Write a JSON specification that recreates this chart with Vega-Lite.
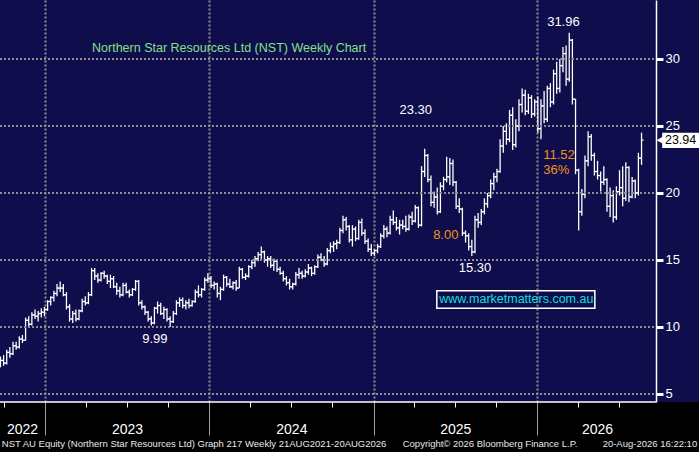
{
  "$schema": "https://vega.github.io/schema/vega-lite/v6.json",
  "width": 699,
  "height": 402,
  "autosize": "none",
  "padding": {"left": 0, "top": 0, "right": 0, "bottom": 50},
  "background": "#000000",
  "config": {
    "view": {"fill": "#0f0d4b", "stroke": null},
    "font": "Liberation Sans",
    "text": {"font": "Liberation Sans"}
  },
  "datasets": {
    "nst": [
      {"d":"2022-09-23","o":7.4,"h":7.8,"l":7.0,"c":7.5},
      {"d":"2022-09-30","o":7.5,"h":7.9,"l":7.1,"c":7.3},
      {"d":"2022-10-07","o":7.3,"h":8.3,"l":7.2,"c":8.1},
      {"d":"2022-10-14","o":8.1,"h":8.5,"l":7.7,"c":8.0},
      {"d":"2022-10-21","o":8.0,"h":8.9,"l":7.9,"c":8.6},
      {"d":"2022-10-28","o":8.6,"h":8.9,"l":8.3,"c":8.5},
      {"d":"2022-11-04","o":8.5,"h":9.3,"l":8.4,"c":9.1},
      {"d":"2022-11-11","o":9.1,"h":9.4,"l":8.8,"c":9.0},
      {"d":"2022-11-18","o":9.0,"h":10.7,"l":9.0,"c":10.5},
      {"d":"2022-11-25","o":10.5,"h":10.8,"l":10.0,"c":10.2},
      {"d":"2022-12-02","o":10.2,"h":11.1,"l":10.1,"c":10.9},
      {"d":"2022-12-09","o":10.9,"h":11.3,"l":10.6,"c":10.8},
      {"d":"2022-12-16","o":10.8,"h":11.2,"l":10.4,"c":11.0},
      {"d":"2022-12-23","o":11.0,"h":11.4,"l":10.7,"c":11.1},
      {"d":"2022-12-30","o":11.1,"h":11.5,"l":10.8,"c":11.3},
      {"d":"2023-01-06","o":11.3,"h":12.0,"l":11.2,"c":11.9},
      {"d":"2023-01-13","o":11.9,"h":12.3,"l":11.6,"c":12.2},
      {"d":"2023-01-20","o":12.2,"h":12.7,"l":11.9,"c":12.5},
      {"d":"2023-01-27","o":12.5,"h":13.2,"l":12.3,"c":12.9},
      {"d":"2023-02-03","o":12.9,"h":13.4,"l":12.6,"c":12.9},
      {"d":"2023-02-10","o":12.9,"h":13.2,"l":12.3,"c":12.4},
      {"d":"2023-02-17","o":12.4,"h":12.6,"l":11.3,"c":11.5},
      {"d":"2023-02-24","o":11.5,"h":11.7,"l":10.4,"c":10.6},
      {"d":"2023-03-03","o":10.6,"h":11.2,"l":10.3,"c":11.0},
      {"d":"2023-03-10","o":11.0,"h":11.3,"l":10.4,"c":10.6},
      {"d":"2023-03-17","o":10.6,"h":11.3,"l":10.5,"c":11.2},
      {"d":"2023-03-24","o":11.2,"h":12.1,"l":11.1,"c":11.9},
      {"d":"2023-03-31","o":11.9,"h":12.3,"l":11.6,"c":11.8},
      {"d":"2023-04-07","o":11.8,"h":12.6,"l":11.7,"c":12.4},
      {"d":"2023-04-14","o":12.4,"h":14.4,"l":12.3,"c":14.2},
      {"d":"2023-04-21","o":14.2,"h":14.4,"l":13.5,"c":13.8},
      {"d":"2023-04-28","o":13.8,"h":14.0,"l":13.3,"c":13.5},
      {"d":"2023-05-05","o":13.5,"h":14.1,"l":13.4,"c":14.0},
      {"d":"2023-05-12","o":14.0,"h":14.2,"l":13.6,"c":13.8},
      {"d":"2023-05-19","o":13.8,"h":13.9,"l":13.2,"c":13.4},
      {"d":"2023-05-26","o":13.4,"h":13.9,"l":12.9,"c":13.6},
      {"d":"2023-06-02","o":13.6,"h":13.8,"l":12.9,"c":13.0},
      {"d":"2023-06-09","o":13.0,"h":13.3,"l":12.4,"c":12.7},
      {"d":"2023-06-16","o":12.7,"h":13.0,"l":12.2,"c":12.4},
      {"d":"2023-06-23","o":12.4,"h":13.3,"l":12.3,"c":13.1},
      {"d":"2023-06-30","o":13.1,"h":13.3,"l":12.5,"c":12.6},
      {"d":"2023-07-07","o":12.6,"h":12.8,"l":12.2,"c":12.4},
      {"d":"2023-07-14","o":12.4,"h":12.9,"l":12.3,"c":12.8},
      {"d":"2023-07-21","o":12.8,"h":13.5,"l":12.7,"c":13.4},
      {"d":"2023-07-28","o":13.4,"h":13.5,"l":11.6,"c":11.8},
      {"d":"2023-08-04","o":11.8,"h":12.0,"l":11.3,"c":11.5},
      {"d":"2023-08-11","o":11.5,"h":11.6,"l":10.9,"c":11.1},
      {"d":"2023-08-18","o":11.1,"h":11.2,"l":10.4,"c":10.6},
      {"d":"2023-08-25","o":10.6,"h":10.8,"l":10.1,"c":10.3},
      {"d":"2023-09-01","o":10.3,"h":11.5,"l":10.2,"c":11.4},
      {"d":"2023-09-08","o":11.4,"h":11.9,"l":11.0,"c":11.6},
      {"d":"2023-09-15","o":11.6,"h":11.8,"l":10.9,"c":11.0},
      {"d":"2023-09-22","o":11.0,"h":11.5,"l":10.6,"c":11.3},
      {"d":"2023-09-29","o":11.3,"h":11.4,"l":10.4,"c":10.6},
      {"d":"2023-10-06","o":10.6,"h":10.8,"l":9.99,"c":10.4},
      {"d":"2023-10-13","o":10.4,"h":11.2,"l":10.3,"c":11.0},
      {"d":"2023-10-20","o":11.0,"h":12.0,"l":10.9,"c":11.8},
      {"d":"2023-10-27","o":11.8,"h":12.2,"l":11.5,"c":12.0},
      {"d":"2023-11-03","o":12.0,"h":12.2,"l":11.4,"c":11.6},
      {"d":"2023-11-10","o":11.6,"h":12.0,"l":11.3,"c":11.8},
      {"d":"2023-11-17","o":11.8,"h":12.1,"l":11.4,"c":11.6},
      {"d":"2023-11-24","o":11.6,"h":12.0,"l":11.5,"c":11.9},
      {"d":"2023-12-01","o":11.9,"h":12.8,"l":11.8,"c":12.6},
      {"d":"2023-12-08","o":12.6,"h":13.1,"l":12.2,"c":12.4},
      {"d":"2023-12-15","o":12.4,"h":12.9,"l":12.2,"c":12.8},
      {"d":"2023-12-22","o":12.8,"h":13.7,"l":12.7,"c":13.5},
      {"d":"2023-12-29","o":13.5,"h":14.0,"l":13.3,"c":13.6},
      {"d":"2024-01-05","o":13.6,"h":13.8,"l":12.9,"c":13.1},
      {"d":"2024-01-12","o":13.1,"h":13.4,"l":12.8,"c":13.2},
      {"d":"2024-01-19","o":13.2,"h":13.3,"l":12.2,"c":12.5},
      {"d":"2024-01-26","o":12.5,"h":13.0,"l":12.0,"c":12.8},
      {"d":"2024-02-02","o":12.8,"h":13.9,"l":12.7,"c":13.7},
      {"d":"2024-02-09","o":13.7,"h":13.8,"l":13.0,"c":13.2},
      {"d":"2024-02-16","o":13.2,"h":13.6,"l":12.9,"c":13.0},
      {"d":"2024-02-23","o":13.0,"h":13.4,"l":12.8,"c":13.3},
      {"d":"2024-03-01","o":13.3,"h":13.5,"l":12.7,"c":12.9},
      {"d":"2024-03-08","o":12.9,"h":14.5,"l":12.9,"c":14.3},
      {"d":"2024-03-15","o":14.3,"h":14.4,"l":13.6,"c":13.7},
      {"d":"2024-03-22","o":13.7,"h":14.0,"l":13.5,"c":13.8},
      {"d":"2024-03-29","o":13.8,"h":14.6,"l":13.7,"c":14.5},
      {"d":"2024-04-05","o":14.5,"h":15.0,"l":14.3,"c":14.8},
      {"d":"2024-04-12","o":14.8,"h":15.3,"l":14.5,"c":15.1},
      {"d":"2024-04-19","o":15.1,"h":15.6,"l":14.9,"c":15.4},
      {"d":"2024-04-26","o":15.4,"h":16.0,"l":15.0,"c":15.6},
      {"d":"2024-05-03","o":15.6,"h":15.7,"l":14.8,"c":15.0},
      {"d":"2024-05-10","o":15.0,"h":15.3,"l":14.5,"c":15.1},
      {"d":"2024-05-17","o":15.1,"h":15.3,"l":14.4,"c":14.6},
      {"d":"2024-05-24","o":14.6,"h":15.1,"l":14.2,"c":14.9},
      {"d":"2024-05-31","o":14.9,"h":15.0,"l":14.1,"c":14.3},
      {"d":"2024-06-07","o":14.3,"h":14.5,"l":13.9,"c":14.0},
      {"d":"2024-06-14","o":14.0,"h":14.2,"l":13.4,"c":13.6},
      {"d":"2024-06-21","o":13.6,"h":13.8,"l":13.1,"c":13.3},
      {"d":"2024-06-28","o":13.3,"h":13.6,"l":12.8,"c":13.0},
      {"d":"2024-07-05","o":13.0,"h":13.3,"l":12.8,"c":13.2},
      {"d":"2024-07-12","o":13.2,"h":14.1,"l":13.1,"c":13.9},
      {"d":"2024-07-19","o":13.9,"h":14.4,"l":13.6,"c":14.0},
      {"d":"2024-07-26","o":14.0,"h":14.2,"l":13.6,"c":13.8},
      {"d":"2024-08-02","o":13.8,"h":14.3,"l":13.7,"c":14.1},
      {"d":"2024-08-09","o":14.1,"h":14.7,"l":13.9,"c":14.4},
      {"d":"2024-08-16","o":14.4,"h":14.5,"l":13.8,"c":14.0},
      {"d":"2024-08-23","o":14.0,"h":14.6,"l":13.9,"c":14.5},
      {"d":"2024-08-30","o":14.5,"h":15.4,"l":14.4,"c":15.2},
      {"d":"2024-09-06","o":15.2,"h":15.5,"l":14.9,"c":15.0},
      {"d":"2024-09-13","o":15.0,"h":15.3,"l":14.5,"c":14.7},
      {"d":"2024-09-20","o":14.7,"h":15.9,"l":14.6,"c":15.7},
      {"d":"2024-09-27","o":15.7,"h":16.3,"l":15.5,"c":16.0},
      {"d":"2024-10-04","o":16.0,"h":16.4,"l":15.6,"c":16.2},
      {"d":"2024-10-11","o":16.2,"h":16.5,"l":15.8,"c":16.3},
      {"d":"2024-10-18","o":16.3,"h":17.4,"l":16.2,"c":17.2},
      {"d":"2024-10-25","o":17.2,"h":18.3,"l":17.0,"c":18.0},
      {"d":"2024-11-01","o":18.0,"h":18.2,"l":17.2,"c":17.5},
      {"d":"2024-11-08","o":17.5,"h":17.6,"l":16.3,"c":16.5},
      {"d":"2024-11-15","o":16.5,"h":17.6,"l":16.0,"c":17.3},
      {"d":"2024-11-22","o":17.3,"h":17.5,"l":16.4,"c":16.6},
      {"d":"2024-11-29","o":16.6,"h":18.0,"l":16.5,"c":17.8},
      {"d":"2024-12-06","o":17.8,"h":18.1,"l":16.8,"c":17.0},
      {"d":"2024-12-13","o":17.0,"h":17.3,"l":16.2,"c":16.4},
      {"d":"2024-12-20","o":16.4,"h":16.6,"l":15.6,"c":15.8},
      {"d":"2024-12-27","o":15.8,"h":16.2,"l":15.3,"c":15.5},
      {"d":"2025-01-03","o":15.5,"h":15.8,"l":15.3,"c":15.7},
      {"d":"2025-01-10","o":15.7,"h":16.2,"l":15.5,"c":16.0},
      {"d":"2025-01-17","o":16.0,"h":17.0,"l":15.9,"c":16.8},
      {"d":"2025-01-24","o":16.8,"h":17.6,"l":16.6,"c":17.3},
      {"d":"2025-01-31","o":17.3,"h":17.5,"l":16.7,"c":17.0},
      {"d":"2025-02-07","o":17.0,"h":18.3,"l":16.9,"c":18.0},
      {"d":"2025-02-14","o":18.0,"h":18.7,"l":17.6,"c":17.8},
      {"d":"2025-02-21","o":17.8,"h":18.2,"l":17.2,"c":17.4},
      {"d":"2025-02-28","o":17.4,"h":18.0,"l":16.9,"c":17.6},
      {"d":"2025-03-07","o":17.6,"h":18.0,"l":17.3,"c":17.5},
      {"d":"2025-03-14","o":17.5,"h":18.3,"l":17.1,"c":17.3},
      {"d":"2025-03-21","o":17.3,"h":18.4,"l":17.2,"c":18.2},
      {"d":"2025-03-28","o":18.2,"h":18.6,"l":17.6,"c":17.9},
      {"d":"2025-04-04","o":17.9,"h":19.1,"l":17.8,"c":18.9},
      {"d":"2025-04-11","o":18.9,"h":19.0,"l":17.4,"c":17.6},
      {"d":"2025-04-18","o":17.6,"h":22.0,"l":17.5,"c":21.6},
      {"d":"2025-04-25","o":21.6,"h":23.3,"l":21.2,"c":22.8},
      {"d":"2025-05-02","o":22.8,"h":22.9,"l":20.8,"c":21.0},
      {"d":"2025-05-09","o":21.0,"h":21.3,"l":19.0,"c":19.3},
      {"d":"2025-05-16","o":19.3,"h":20.1,"l":18.9,"c":19.7},
      {"d":"2025-05-23","o":19.7,"h":20.4,"l":18.4,"c":18.6},
      {"d":"2025-05-30","o":18.6,"h":20.8,"l":18.5,"c":20.5},
      {"d":"2025-06-06","o":20.5,"h":21.2,"l":20.2,"c":21.0},
      {"d":"2025-06-13","o":21.0,"h":22.7,"l":20.8,"c":21.2},
      {"d":"2025-06-20","o":21.2,"h":22.6,"l":20.6,"c":22.2},
      {"d":"2025-06-27","o":22.2,"h":22.5,"l":20.5,"c":20.8},
      {"d":"2025-07-04","o":20.8,"h":20.9,"l":18.8,"c":19.0},
      {"d":"2025-07-11","o":19.0,"h":19.6,"l":18.5,"c":18.8},
      {"d":"2025-07-18","o":18.8,"h":18.9,"l":16.8,"c":17.0},
      {"d":"2025-07-25","o":17.0,"h":17.2,"l":16.3,"c":16.8},
      {"d":"2025-08-01","o":16.8,"h":17.0,"l":15.7,"c":16.0},
      {"d":"2025-08-08","o":16.0,"h":16.5,"l":15.3,"c":15.6},
      {"d":"2025-08-15","o":15.6,"h":18.3,"l":15.5,"c":18.0},
      {"d":"2025-08-22","o":18.0,"h":18.5,"l":17.4,"c":17.8},
      {"d":"2025-08-29","o":17.8,"h":18.8,"l":17.6,"c":18.6},
      {"d":"2025-09-05","o":18.6,"h":19.6,"l":18.4,"c":19.2},
      {"d":"2025-09-12","o":19.2,"h":20.0,"l":18.9,"c":19.8},
      {"d":"2025-09-19","o":19.8,"h":21.0,"l":19.6,"c":20.7},
      {"d":"2025-09-26","o":20.7,"h":21.5,"l":20.2,"c":21.2},
      {"d":"2025-10-03","o":21.2,"h":21.8,"l":20.8,"c":21.6},
      {"d":"2025-10-10","o":21.6,"h":24.0,"l":21.5,"c":23.5},
      {"d":"2025-10-17","o":23.5,"h":25.0,"l":23.0,"c":24.6},
      {"d":"2025-10-24","o":24.6,"h":25.2,"l":23.6,"c":24.0},
      {"d":"2025-10-31","o":24.0,"h":26.2,"l":23.8,"c":25.8},
      {"d":"2025-11-07","o":25.8,"h":26.4,"l":23.2,"c":23.6},
      {"d":"2025-11-14","o":23.6,"h":25.5,"l":23.4,"c":25.0},
      {"d":"2025-11-21","o":25.0,"h":27.0,"l":24.6,"c":26.6},
      {"d":"2025-11-28","o":26.6,"h":27.8,"l":26.0,"c":27.3},
      {"d":"2025-12-05","o":27.3,"h":27.7,"l":25.8,"c":26.1},
      {"d":"2025-12-12","o":26.1,"h":27.4,"l":25.9,"c":27.1},
      {"d":"2025-12-19","o":27.1,"h":27.3,"l":25.6,"c":25.9},
      {"d":"2025-12-26","o":25.9,"h":27.0,"l":25.7,"c":26.8},
      {"d":"2026-01-02","o":26.8,"h":27.2,"l":24.5,"c":24.8},
      {"d":"2026-01-09","o":24.8,"h":27.0,"l":24.0,"c":26.5},
      {"d":"2026-01-16","o":26.5,"h":27.6,"l":25.2,"c":25.5},
      {"d":"2026-01-23","o":25.5,"h":28.0,"l":25.3,"c":27.8},
      {"d":"2026-01-30","o":27.8,"h":28.2,"l":26.4,"c":26.8},
      {"d":"2026-02-06","o":26.8,"h":29.2,"l":26.6,"c":28.9},
      {"d":"2026-02-13","o":28.9,"h":29.8,"l":27.4,"c":27.8},
      {"d":"2026-02-20","o":27.8,"h":30.0,"l":27.5,"c":29.5},
      {"d":"2026-02-27","o":29.5,"h":30.9,"l":29.0,"c":30.4},
      {"d":"2026-03-06","o":30.4,"h":31.0,"l":28.0,"c":28.5},
      {"d":"2026-03-13","o":28.5,"h":31.96,"l":28.3,"c":31.4},
      {"d":"2026-03-20","o":31.4,"h":31.5,"l":26.6,"c":27.0},
      {"d":"2026-03-27","o":27.0,"h":27.0,"l":21.4,"c":21.7},
      {"d":"2026-04-03","o":21.7,"h":21.8,"l":17.2,"c":18.6},
      {"d":"2026-04-10","o":18.6,"h":20.3,"l":18.3,"c":19.9},
      {"d":"2026-04-17","o":19.9,"h":22.8,"l":19.6,"c":22.4},
      {"d":"2026-04-24","o":22.4,"h":24.6,"l":22.0,"c":24.2},
      {"d":"2026-05-01","o":24.2,"h":24.4,"l":22.4,"c":22.8},
      {"d":"2026-05-08","o":22.8,"h":23.0,"l":21.3,"c":21.6},
      {"d":"2026-05-15","o":21.6,"h":22.4,"l":21.0,"c":21.3},
      {"d":"2026-05-22","o":21.3,"h":21.6,"l":20.1,"c":20.8},
      {"d":"2026-05-29","o":20.8,"h":22.0,"l":20.6,"c":21.0},
      {"d":"2026-06-05","o":21.0,"h":21.1,"l":18.6,"c":19.0},
      {"d":"2026-06-12","o":19.0,"h":20.4,"l":18.2,"c":19.8},
      {"d":"2026-06-19","o":19.8,"h":20.2,"l":17.8,"c":18.2},
      {"d":"2026-06-26","o":18.2,"h":20.5,"l":18.0,"c":20.1},
      {"d":"2026-07-03","o":20.1,"h":21.7,"l":19.8,"c":20.4},
      {"d":"2026-07-10","o":20.4,"h":22.0,"l":19.0,"c":19.6},
      {"d":"2026-07-17","o":19.6,"h":22.3,"l":19.4,"c":21.9},
      {"d":"2026-07-24","o":21.9,"h":22.0,"l":19.3,"c":19.7},
      {"d":"2026-07-31","o":19.7,"h":21.2,"l":19.6,"c":20.9},
      {"d":"2026-08-07","o":20.9,"h":21.0,"l":19.6,"c":20.0},
      {"d":"2026-08-14","o":20.0,"h":23.0,"l":19.8,"c":22.6},
      {"d":"2026-08-21","o":22.6,"h":24.5,"l":22.1,"c":23.94}
    ],
    "notes": [
      {"d":"2026-02-28","v":32.75,"t":"31.96","k":"price"},
      {"d":"2025-04-05","v":26.2,"t":"23.30","k":"price"},
      {"d":"2025-08-15","v":14.4,"t":"15.30","k":"price"},
      {"d":"2023-09-02","v":9.1,"t":"9.99","k":"price"},
      {"d":"2025-06-11","v":16.86,"t":"8.00","k":"move"},
      {"d":"2026-02-18","v":22.83,"t":"11.52","k":"move"},
      {"d":"2026-02-12","v":21.7,"t":"36%","k":"move"}
    ],
    "levels": [{"g":5},{"g":10},{"g":15},{"g":20},{"g":25},{"g":30}],
    "one": [{}]
  },
  "resolve": {"axis": {"x": "independent"}},
  "layer": [
    {
      "data": {"name": "nst"},
      "mark": {"type": "rule", "color": "#ffffff", "strokeWidth": 1.3},
      "encoding": {
        "x": {"field": "d", "type": "temporal",
              "scale": {"type": "utc", "domain": [{"year": 2022, "month": 9, "date": 22, "utc": true}, {"year": 2026, "month": 12, "date": 27, "utc": true}]},
              "axis": {
                "orient": "bottom", "title": null, "labels": false, "domain": false,
                "values": [
                  {"year": 2022, "month": 10, "date": 1, "utc": true},
                  {"year": 2023, "month": 1, "date": 1, "utc": true},
                  {"year": 2023, "month": 4, "date": 1, "utc": true},
                  {"year": 2023, "month": 7, "date": 1, "utc": true},
                  {"year": 2023, "month": 10, "date": 1, "utc": true},
                  {"year": 2024, "month": 1, "date": 1, "utc": true},
                  {"year": 2024, "month": 4, "date": 1, "utc": true},
                  {"year": 2024, "month": 7, "date": 1, "utc": true},
                  {"year": 2024, "month": 10, "date": 1, "utc": true},
                  {"year": 2025, "month": 1, "date": 1, "utc": true},
                  {"year": 2025, "month": 4, "date": 1, "utc": true},
                  {"year": 2025, "month": 7, "date": 1, "utc": true},
                  {"year": 2025, "month": 10, "date": 1, "utc": true},
                  {"year": 2026, "month": 1, "date": 1, "utc": true},
                  {"year": 2026, "month": 4, "date": 1, "utc": true},
                  {"year": 2026, "month": 7, "date": 1, "utc": true}
                ],
                "tickSize": {"condition": {"test": "utcmonth(datum.value) === 0", "value": 33}, "value": 5},
                "tickColor": {"condition": {"test": "utcmonth(datum.value) === 0", "value": "#a0a0a0"}, "value": "#ffffff"},
                "tickWidth": 1,
                "grid": true, "gridColor": "#8f8f8f", "gridWidth": 2, "gridDash": [2, 2],
                "gridOpacity": {"condition": {"test": "utcmonth(datum.value) === 0", "value": 1}, "value": 0}
              }},
        "y": {"field": "l", "type": "quantitative",
              "scale": {"domain": [4.4, 34.4], "nice": false, "zero": false},
              "axis": {
                "orient": "right", "offset": -43, "title": null, "grid": false,
                "values": [5, 7.5, 10, 12.5, 15, 17.5, 20, 22.5, 25, 27.5, 30, 32.5],
                "labelExpr": "datum.value % 5 === 0 ? datum.label : ''",
                "labelColor": "#ffffff", "labelFontSize": 13, "labelPadding": 2,
                "labelFont": "Liberation Sans", "labelOverlap": false, "labelFlush": false,
                "domainColor": "#ffffff", "domainWidth": 1.5,
                "tickColor": "#ffffff",
                "tickSize": {"condition": {"test": "datum.value % 5 === 0", "value": 7}, "value": 4},
                "tickWidth": {"condition": {"test": "datum.value % 5 === 0", "value": 3}, "value": 1.5},
                "zindex": 1
              }},
        "y2": {"field": "h"}
      }
    },
    {
      "data": {"name": "levels"},
      "mark": {"type": "rule", "color": "#8f8f8f", "strokeWidth": 2, "strokeDash": [2, 2]},
      "encoding": {
        "x": {"datum": {"year": 2022, "month": 9, "date": 22, "utc": true}, "type": "temporal", "axis": null},
        "x2": {"datum": {"year": 2026, "month": 9, "date": 22, "utc": true}},
        "y": {"field": "g", "type": "quantitative"}
      }
    },
    {
      "data": {"name": "nst"},
      "mark": {"type": "tick", "orient": "horizontal", "size": 2, "thickness": 1.3, "xOffset": -1, "color": "#ffffff", "opacity": 1},
      "encoding": {
        "x": {"field": "d", "type": "temporal",
              "axis": {
                "orient": "bottom", "title": null, "ticks": false, "domain": false, "grid": false, "format": "%Y",
                "values": [
                  {"year": 2022, "month": 11, "date": 10, "utc": true},
                  {"year": 2023, "month": 7, "date": 2, "utc": true},
                  {"year": 2024, "month": 7, "date": 2, "utc": true},
                  {"year": 2025, "month": 7, "date": 2, "utc": true},
                  {"year": 2026, "month": 5, "date": 14, "utc": true}
                ],
                "labelColor": "#ffffff", "labelFontSize": 14, "labelPadding": 20,
                "labelFont": "Liberation Sans", "labelOverlap": false, "labelFlush": false
              }},
        "y": {"field": "o", "type": "quantitative"}
      }
    },
    {
      "data": {"name": "nst"},
      "mark": {"type": "tick", "orient": "horizontal", "size": 2, "thickness": 1.3, "xOffset": 1, "color": "#ffffff", "opacity": 1},
      "encoding": {
        "x": {"field": "d", "type": "temporal", "axis": null},
        "y": {"field": "c", "type": "quantitative"}
      }
    },
    {
      "data": {"name": "one"},
      "mark": {"type": "rule", "color": "#ffffff", "strokeWidth": 1.5},
      "encoding": {
        "x": {"datum": {"year": 2022, "month": 9, "date": 22, "utc": true}, "type": "temporal", "axis": null},
        "x2": {"datum": {"year": 2026, "month": 9, "date": 22, "utc": true}},
        "y": {"datum": 4.4, "type": "quantitative"}
      }
    },
    {
      "data": {"name": "notes"},
      "mark": {"type": "text", "fontSize": 13, "align": "center", "baseline": "middle"},
      "encoding": {
        "x": {"field": "d", "type": "temporal", "axis": null},
        "y": {"field": "v", "type": "quantitative"},
        "text": {"field": "t"},
        "color": {"field": "k", "type": "nominal", "legend": null,
                  "scale": {"domain": ["price", "move"], "range": ["#ffffff", "#f0921e"]}}
      }
    },
    {
      "data": {"name": "one"},
      "mark": {"type": "text", "text": "Northern Star Resources Ltd (NST) Weekly Chart", "fontSize": 12.5, "align": "left", "baseline": "middle", "color": "#86e08c"},
      "encoding": {
        "x": {"datum": {"year": 2023, "month": 4, "date": 15, "utc": true}, "type": "temporal", "axis": null},
        "y": {"datum": 30.84, "type": "quantitative"}
      }
    },
    {
      "data": {"name": "one"},
      "mark": {"type": "rect", "fill": "#0f0d4b", "fillOpacity": 0, "stroke": "#ffffff", "strokeWidth": 1.5},
      "encoding": {
        "x": {"datum": {"year": 2025, "month": 5, "date": 22, "utc": true}, "type": "temporal", "axis": null},
        "x2": {"datum": {"year": 2026, "month": 5, "date": 9, "utc": true}},
        "y": {"datum": 12.71, "type": "quantitative"},
        "y2": {"datum": 11.39}
      }
    },
    {
      "data": {"name": "one"},
      "mark": {"type": "text", "text": "www.marketmatters.com.au", "fontSize": 12.5, "align": "center", "baseline": "middle", "color": "#14dede"},
      "encoding": {
        "x": {"datum": {"year": 2025, "month": 11, "date": 15, "utc": true}, "type": "temporal", "axis": null},
        "y": {"datum": 12.05, "type": "quantitative"}
      }
    },
    {
      "data": {"name": "one"},
      "mark": {"type": "rect", "fill": "#ffffff"},
      "encoding": {
        "x": {"datum": {"year": 2026, "month": 10, "date": 6, "utc": true}, "type": "temporal", "axis": null},
        "x2": {"datum": {"year": 2026, "month": 12, "date": 27, "utc": true}},
        "y": {"datum": 24.5, "type": "quantitative"},
        "y2": {"datum": 23.36}
      }
    },
    {
      "data": {"name": "one"},
      "mark": {"type": "point", "shape": "triangle-left", "filled": true, "color": "#ffffff", "size": 60, "opacity": 1},
      "encoding": {
        "x": {"datum": {"year": 2026, "month": 10, "date": 1, "utc": true}, "type": "temporal", "axis": null},
        "y": {"datum": 23.94, "type": "quantitative"}
      }
    },
    {
      "data": {"name": "one"},
      "mark": {"type": "text", "text": "23.94", "fontSize": 12.5, "align": "center", "baseline": "middle", "color": "#000000"},
      "encoding": {
        "x": {"datum": {"year": 2026, "month": 11, "date": 16, "utc": true}, "type": "temporal", "axis": null},
        "y": {"datum": 23.94, "type": "quantitative"}
      }
    },
    {
      "data": {"name": "one"},
      "mark": {"type": "text", "text": "NST AU Equity (Northern Star Resources Ltd) Graph 217 Weekly 21AUG2021-20AUG2026", "font": "Liberation Sans", "fontSize": 9.5, "align": "left", "baseline": "middle", "color": "#e8e8e8"},
      "encoding": {
        "x": {"datum": {"year": 2022, "month": 9, "date": 26, "utc": true}, "type": "temporal", "axis": null},
        "y": {"datum": 1.27, "type": "quantitative"}
      }
    },
    {
      "data": {"name": "one"},
      "mark": {"type": "text", "text": "Copyright© 2026 Bloomberg Finance L.P.", "font": "Liberation Sans", "fontSize": 9.5, "align": "left", "baseline": "middle", "color": "#e8e8e8"},
      "encoding": {
        "x": {"datum": {"year": 2025, "month": 3, "date": 7, "utc": true}, "type": "temporal", "axis": null},
        "y": {"datum": 1.27, "type": "quantitative"}
      }
    },
    {
      "data": {"name": "one"},
      "mark": {"type": "text", "text": "20-Aug-2026 16:22:10", "font": "Liberation Sans", "fontSize": 9.5, "align": "right", "baseline": "middle", "color": "#e8e8e8"},
      "encoding": {
        "x": {"datum": {"year": 2026, "month": 12, "date": 23, "utc": true}, "type": "temporal", "axis": null},
        "y": {"datum": 1.27, "type": "quantitative"}
      }
    }
  ]
}
